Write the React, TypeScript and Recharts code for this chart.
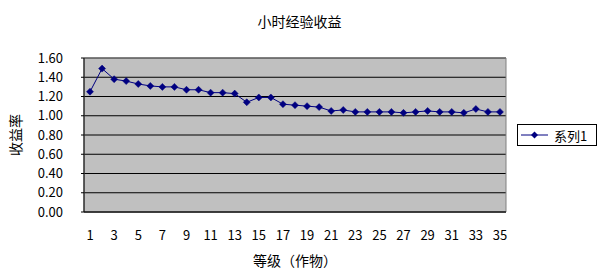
import {
  LineChart,
  Line,
  XAxis,
  YAxis,
  CartesianGrid,
  ReferenceArea,
} from "recharts";

const levels = [
  1, 2, 3, 4, 5, 6, 7, 8, 9, 10, 11, 12, 13, 14, 15, 16, 17, 18, 19, 20, 21,
  22, 23, 24, 25, 26, 27, 28, 29, 30, 31, 32, 33, 34, 35,
];
const yieldRates = [
  1.25, 1.49, 1.38, 1.36, 1.33, 1.31, 1.3, 1.3, 1.27, 1.27, 1.24, 1.24, 1.23,
  1.14, 1.19, 1.19, 1.12, 1.11, 1.1, 1.09, 1.05, 1.06, 1.04, 1.04, 1.04, 1.04,
  1.03, 1.04, 1.05, 1.04, 1.04, 1.03, 1.07, 1.04, 1.04,
];
const xTickLabels = [1, 3, 5, 7, 9, 11, 13, 15, 17, 19, 21, 23, 25, 27, 29, 31, 33, 35];
const yTicks = [0, 0.2, 0.4, 0.6, 0.8, 1.0, 1.2, 1.4, 1.6];
const seriesName = "系列1";

const data = levels.map((level, i) => ({ level, rate: yieldRates[i] }));
// category boundaries for the small inside tick marks
const boundaries = [...levels.map((l) => l - 0.5), levels[levels.length - 1] + 0.5];

const FONT = "'Noto Sans CJK SC', sans-serif";
const NAVY = "#000080";

function Diamond(props: any) {
  const { cx, cy, index } = props;
  if (cx == null || cy == null) return <g key={index} />;
  const r = 3.5;
  return (
    <path
      key={index}
      d={`M${cx},${cy - r}L${cx + r},${cy}L${cx},${cy + r}L${cx - r},${cy}Z`}
      fill={NAVY}
      stroke={NAVY}
      strokeWidth={0.5}
    />
  );
}

function LegendBox() {
  return (
    <div
      style={{
        position: "absolute",
        left: 517,
        top: 124,
        border: "1px solid #000",
        background: "#fff",
        width: 80,
        height: 22,
        display: "flex",
        alignItems: "center",
        boxSizing: "border-box",
        fontFamily: FONT,
        fontSize: 13,
      }}
    >
      <svg width={32} height={20}>
        <line x1={3} y1={10} x2={30} y2={10} stroke={NAVY} strokeWidth={1} />
        <path d="M16.5,6.5L20,10L16.5,13.5L13,10Z" fill={NAVY} />
      </svg>
      <span style={{ marginLeft: 4 }}>{seriesName}</span>
    </div>
  );
}

export default function App() {
  return (
    <div style={{ position: "absolute", left: 0, top: 0, width: 599, height: 277, background: "#fff" }}>
      <div
        style={{
          position: "absolute",
          top: 11,
          width: 599,
          textAlign: "center",
          fontFamily: FONT,
          fontSize: 14,
          left: 0,
        }}
      >
        小时经验收益
      </div>
      <LineChart
        width={599}
        height={277}
        data={data}
        margin={{ top: 58, right: 93, bottom: 0, left: 0 }}
        style={{ fontFamily: FONT }}
      >
        <CartesianGrid horizontal vertical={false} stroke="#000" fill="#c0c0c0" fillOpacity={1} />
        <ReferenceArea
          x1={0.5}
          x2={35.5}
          y1={0}
          y2={1.6}
          fill="none"
          stroke="#808080"
          strokeWidth={1}
          ifOverflow="visible"
        />
        <XAxis
          dataKey="level"
          type="number"
          domain={[0.5, 35.5]}
          allowDataOverflow
          ticks={xTickLabels}
          interval={0}
          tickLine={false}
          tickSize={6}
          tickMargin={13}
          axisLine={{ stroke: "#000" }}
          tick={{ fill: "#000", fontSize: 13 }}
          height={65}
          label={{ value: "等级（作物）", position: "insideBottom", offset: 11, fill: "#000", fontSize: 14 }}
        />
        <XAxis
          xAxisId="marks"
          dataKey="level"
          type="number"
          domain={[0.5, 35.5]}
          allowDataOverflow
          ticks={boundaries}
          interval={0}
          tick={false}
          tickLine={{ stroke: "#000" }}
          tickSize={4}
          mirror
          axisLine={false}
          height={0}
        />
        <YAxis
          domain={[0, 1.6]}
          ticks={yTicks}
          interval={0}
          allowDataOverflow
          width={84}
          tickFormatter={(v: number) => v.toFixed(2)}
          tickLine={{ stroke: "#000" }}
          tickSize={3}
          tickMargin={18}
          axisLine={{ stroke: "#000" }}
          tick={{ fill: "#000", fontSize: 13 }}
          label={{
            value: "收益率",
            angle: -90,
            position: "insideLeft",
            offset: 16,
            fill: "#000",
            fontSize: 14,
            style: { textAnchor: "middle" },
          }}
        />
        <Line
          dataKey="rate"
          name={seriesName}
          stroke={NAVY}
          strokeWidth={1}
          dot={(p: any) => <Diamond {...p} />}
          activeDot={false}
          isAnimationActive={false}
        />
      </LineChart>
      <LegendBox />
    </div>
  );
}
